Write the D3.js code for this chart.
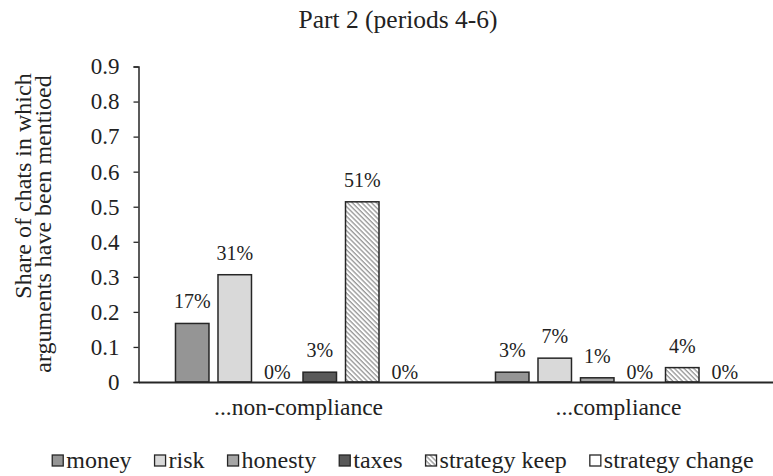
<!DOCTYPE html>
<html>
<head>
<meta charset="utf-8">
<script src="https://cdn.jsdelivr.net/npm/d3@7"></script>
<style>
  body { margin: 0; background: #fff; }
  text { font-family: "Liberation Serif", "Times New Roman", serif; fill: #222; }
</style>
</head>
<body>
<script>
// data
var categories = ['...non-compliance', '...compliance']
var seriesNames = ['money', 'risk', 'honesty', 'taxes', 'strategy keep', 'strategy change']
var nonCompliance = [0.167, 0.306, 0, 0.028, 0.514, 0]
var compliance = [0.028, 0.068, 0.012, 0, 0.041, 0]
var valueLabels = [['17%', '31%', '0%', '3%', '51%', '0%'], ['3%', '7%', '1%', '0%', '4%', '0%']]
var yTicks = [0, 0.1, 0.2, 0.3, 0.4, 0.5, 0.6, 0.7, 0.8, 0.9]
var fills = ['#959595', '#d9d9d9', '#a6a6a6', '#595959', 'url(#hatch)', '#ffffff']

var W = 773, H = 476
var svg = d3.select('body').append('svg')
	.attr('width', W)
	.attr('height', H)

// hatch pattern for "strategy keep"
var pat = svg.append('defs').append('pattern')
	.attr('id', 'hatch')
	.attr('patternUnits', 'userSpaceOnUse')
	.attr('width', 3.4)
	.attr('height', 3.4)
	.attr('patternTransform', 'rotate(-45)')
pat.append('rect').attr('width', 3.4).attr('height', 3.4).attr('fill', '#fff')
pat.append('line')
	.attr('x1', 1).attr('y1', 0).attr('x2', 1).attr('y2', 3.4)
	.attr('stroke', '#8a8a8a').attr('stroke-width', 1.2)

// scales
var x0 = d3.scaleBand()
	.domain(categories)
	.range([138.5, 778.5])
var x1 = d3.scaleBand()
	.domain(seriesNames)
	.range([0, x0.bandwidth()])
	.paddingInner(0.212)
	.paddingOuter(0.87)
var y = d3.scaleLinear()
	.domain([0, 0.9])
	.range([382, 66.5])

var rows = [nonCompliance, compliance]

// bars
var groups = svg.selectAll('g.grp')
	.data(categories)
	.enter()
	.append('g')
	.attr('class', 'grp')
	.attr('transform', function (d) { return 'translate(' + x0(d) + ',0)' })

groups.selectAll('rect')
	.data(function (d, i) {
		return rows[i].map(function (v, j) { return {name: seriesNames[j], v: v, i: j} })
	})
	.enter()
	.append('rect')
	.filter(function (d) { return d.v > 0 })
	.attr('x', function (d) { return x1(d.name) })
	.attr('y', function (d) { return y(d.v) })
	.attr('width', x1.bandwidth())
	.attr('height', function (d) { return y(0) - y(d.v) })
	.attr('fill', function (d) { return fills[d.i] })
	.attr('stroke', '#262626')
	.attr('stroke-width', 1.5)

// value labels
groups.selectAll('text.lbl')
	.data(function (d, i) {
		return rows[i].map(function (v, j) { return {name: seriesNames[j], v: v, t: valueLabels[i][j]} })
	})
	.enter()
	.append('text')
	.attr('class', 'lbl')
	.attr('x', function (d) { return x1(d.name) + x1.bandwidth() / 2 })
	.attr('y', function (d) { return d.v > 0 ? y(d.v) - 15 : y(0) - 3 })
	.attr('text-anchor', 'middle')
	.style('font-size', '20px')
	.text(function (d) { return d.t })

// y axis
var yAxis = d3.axisLeft(y)
	.tickValues(yTicks)
	.tickSize(5)
	.tickPadding(14)
	.tickFormat(function (d) { return d === 0 ? '0' : d3.format('.1f')(d) })
var ga = svg.append('g')
	.attr('transform', 'translate(138.5,0)')
	.call(yAxis)
ga.select('.domain').attr('stroke', '#262626').attr('stroke-width', 1.5)
ga.selectAll('.tick line').attr('stroke', '#262626').attr('stroke-width', 1.3)
ga.selectAll('.tick text')
	.style('font-size', '23px')
	.style('font-family', '"Liberation Serif", serif')
	.attr('fill', '#222')

// x axis
var xAxis = d3.axisBottom(x0)
	.tickSize(0)
	.tickPadding(16)
var gx = svg.append('g')
	.attr('transform', 'translate(0,382)')
	.call(xAxis)
gx.select('.domain').attr('stroke', '#262626').attr('stroke-width', 2)
gx.selectAll('.tick text')
	.style('font-size', '23.5px')
	.style('font-family', '"Liberation Serif", serif')
	.attr('fill', '#222')

// title
svg.append('text')
	.attr('x', 398)
	.attr('y', 28)
	.attr('text-anchor', 'middle')
	.style('font-size', '25.5px')
	.text('Part 2 (periods 4-6)')

// y axis title (two lines)
svg.append('text')
	.attr('transform', 'translate(31,186) rotate(-90)')
	.attr('text-anchor', 'middle')
	.style('font-size', '24px')
	.text('Share of chats in which')
svg.append('text')
	.attr('transform', 'translate(51,224) rotate(-90)')
	.attr('text-anchor', 'middle')
	.style('font-size', '24px')
	.text('arguments have been mentioed')

// legend
var legend = svg.append('g')
var lx = 0
seriesNames.forEach(function (name, i) {
	var item = legend.append('g').attr('transform', 'translate(' + lx + ',0)')
	item.append('rect')
		.attr('x', 0).attr('y', 455)
		.attr('width', 11).attr('height', 11)
		.attr('fill', fills[i])
		.attr('stroke', '#262626')
		.attr('stroke-width', 1.3)
	var t = item.append('text')
		.attr('x', 14)
		.attr('y', 468)
		.style('font-size', '24px')
		.text(name)
	lx += 14 + t.node().getComputedTextLength() + 23
})
legend.attr('transform', 'translate(' + (403 - (lx - 23) / 2) + ',0)')
</script>
</body>
</html>
